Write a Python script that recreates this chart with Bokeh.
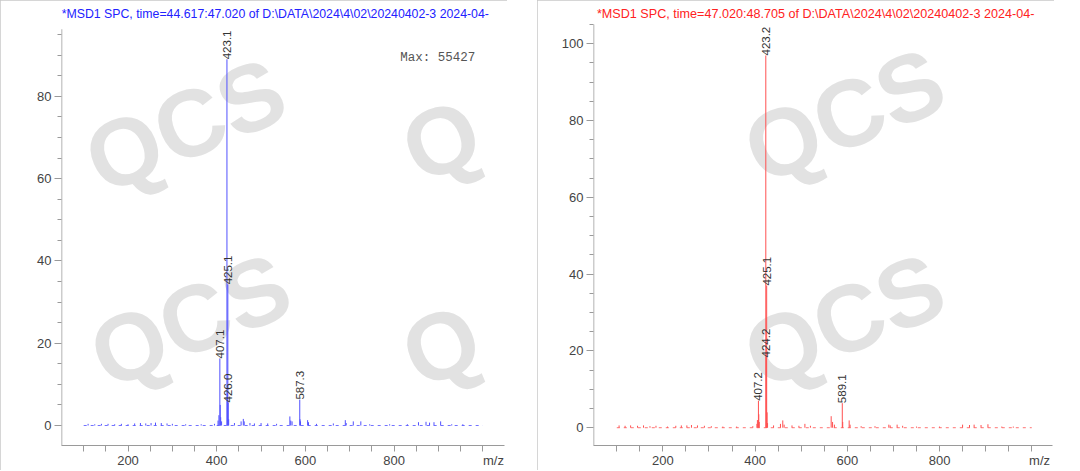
import math
from bokeh.plotting import figure
from bokeh.layouts import row
from bokeh.models import FixedTicker, Label, Range1d
from bokeh.embed import file_html
from bokeh.resources import INLINE
from bokeh.core.properties import value

# ---------------- data ----------------
left_title = "*MSD1 SPC, time=44.617:47.020 of D:\\DATA\\2024\\4\\02\\20240402-3 2024-04-"
left_max_text = "Max:  55427"
left_mz = [110, 125, 140, 155, 170, 185, 200, 215, 228, 240, 252, 262, 275, 288, 300,
           330, 365, 395, 403, 405, 407.1, 408, 409, 411, 423.1, 424, 425.1, 426.0, 427,
           440, 455, 460, 462, 475, 485, 500, 515, 535, 565, 567, 570, 587.3, 588, 589,
           605, 607, 625, 663, 690, 692, 708, 725, 745, 790, 830, 855, 872, 880, 890,
           905, 930, 955]
left_int = [0.4, 0.3, 0.4, 0.4, 0.3, 0.4, 0.3, 0.5, 0.6, 0.5, 0.6, 0.7, 0.6, 0.5, 0.4,
            0.3, 0.3, 0.4, 1.2, 2.5, 16.3, 5.0, 2.0, 1.0, 89.0, 8.0, 34.3, 5.6, 1.5,
            0.6, 1.0, 1.6, 1.0, 0.6, 0.5, 0.6, 0.5, 0.4, 2.2, 1.2, 1.0, 6.3, 1.5, 1.0,
            1.3, 0.8, 0.4, 0.5, 1.3, 0.6, 1.0, 1.0, 0.3, 0.3, 0.3, 0.8, 0.9, 0.7, 0.8,
            1.0, 0.3, 0.3]
left_label_mz = [407.1, 423.1, 425.1, 426.0, 587.3]
left_label_int = [16.3, 89.0, 34.3, 5.6, 6.3]
left_label_text = ["407.1", "423.1", "425.1", "426.0", "587.3"]
left_y_ticks = [0, 20, 40, 60, 80]
left_y_axis_top = 96.3

right_title = "*MSD1 SPC, time=47.020:48.705 of D:\\DATA\\2024\\4\\02\\20240402-3 2024-04-"
right_mz = [105, 118, 130, 145, 158, 172, 185, 210, 228, 240, 252, 262, 275, 290, 305,
            330, 360, 395, 404, 405, 407.2, 408, 409, 423.2, 424.2, 425.1, 426, 427,
            440, 455, 460, 463, 480, 495, 508, 520, 565, 568, 572, 589.1, 590, 604, 606,
            630, 660, 690, 693, 708, 720, 750, 800, 850, 865, 875, 890, 905, 935, 960]
right_int = [0.6, 0.5, 0.6, 0.5, 0.6, 0.4, 0.5, 0.3, 0.5, 0.6, 0.6, 0.7, 0.6, 0.5, 0.4,
             0.3, 0.3, 0.4, 1.0, 2.0, 7.0, 3.5, 1.5, 96.9, 18.3, 37.0, 4.0, 1.2,
             0.6, 1.0, 1.9, 0.8, 0.6, 0.5, 1.0, 0.5, 3.0, 1.5, 0.8, 6.4, 1.5, 1.9, 0.8,
             0.4, 0.4, 0.8, 0.6, 0.8, 0.5, 0.3, 0.3, 0.8, 0.7, 0.8, 0.7, 0.9, 0.3, 0.3]
right_label_mz = [407.2, 423.2, 424.2, 425.1, 589.1]
right_label_int = [7.0, 96.9, 18.3, 37.0, 6.4]
right_label_text = ["407.2", "423.2", "424.2", "425.1", "589.1"]
right_y_ticks = [0, 20, 40, 60, 80, 100]
right_y_axis_top = 105

x_tick_values = [200, 400, 600, 800]
x_minor_ticks = list(range(100, 1001, 50))
scan_range = [100, 1000]
axis_label = "m/z"
watermark = "QCS"
watermark_edge = "Q"   # only the first letter of the watermark that straddles the panels

FONT = "Liberation Sans"
AXIS_COLOR = "#9a9a9a"


def add_mark(p, x, y, text):
    p.add_layout(Label(x=x, y=y, text=text, angle=0.40, text_font=FONT,
                       text_font_style="bold", text_font_size="95px",
                       text_color="#e2e2e2", text_align="center",
                       text_baseline="middle", level="underlay"))


def make_panel(title, title_color, line_color, mz, inten, lab_mz, lab_int, lab_txt,
               y_ticks, y_minor, y_top, xr, yr, width, min_left, min_right,
               title_pos, title_size, mz_pos, marks, max_text=None, max_pos=None):
    p = figure(width=width, height=470, x_range=Range1d(*xr), y_range=Range1d(*yr),
               output_backend="svg", toolbar_location=None,
               min_border_left=min_left, min_border_right=min_right,
               min_border_top=2, min_border_bottom=25)
    p.xgrid.visible = False
    p.ygrid.visible = False
    p.outline_line_color = None
    p.background_fill_color = "white"
    p.border_fill_color = "white"
    p.styles = {"outline": "1px solid #c8c8c8", "outline-offset": "-1px"}

    for wx, wy in marks:
        add_mark(p, wx, wy, watermark)

    p.add_layout(Label(x=title_pos[0], y=title_pos[1], text=title, text_font=FONT,
                       text_font_size=title_size, text_color=title_color,
                       text_align="left", text_baseline="middle"))

    ax = p.xaxis[0]
    ax.ticker = FixedTicker(ticks=x_tick_values + [mz_pos], minor_ticks=x_minor_ticks)
    ax.major_label_overrides = {mz_pos: axis_label}
    ay = p.yaxis[0]
    ay.ticker = FixedTicker(ticks=y_ticks, minor_ticks=y_minor)
    for a, mj, mn in ((ax, 0, 6), (ay, 7, 4)):
        a.axis_line_color = AXIS_COLOR
        a.major_tick_line_color = AXIS_COLOR
        a.minor_tick_line_color = AXIS_COLOR
        a.major_tick_in = 0
        a.minor_tick_in = 0
        a.major_tick_out = mj
        a.minor_tick_out = mn
        a.major_label_text_font = FONT
        a.major_label_text_font_size = "13px"
        a.major_label_text_color = "#444444"
        a.major_label_standoff = 3
    ax.major_label_standoff = 1
    # the y axis line stops at the top of the scale, below the title
    ay.axis_line_color = None
    p.segment(x0=xr[0], y0=yr[0], x1=xr[0], y1=y_top, line_color=AXIS_COLOR,
              line_width=1.5)

    # baseline noise (dashed) and peaks
    p.segment(x0=scan_range[0], y0=0, x1=scan_range[1], y1=0, line_color=line_color,
              line_width=1, line_dash="3 4", line_alpha=0.8)
    p.segment(x0=mz, y0=0, x1=mz, y1=inten, line_color=line_color, line_width=1)

    p.text(x=lab_mz, y=lab_int, text=lab_txt, angle=math.pi / 2, text_align="left",
           text_baseline="middle", text_font=value(FONT), text_font_size="11.5px",
           text_color="#333333")

    if max_text:
        p.add_layout(Label(x=max_pos[0], y=max_pos[1], text=max_text,
                           text_font="Liberation Mono", text_font_size="12.5px",
                           text_color="#555555", text_align="left",
                           text_baseline="middle"))
    return p


p1 = make_panel(left_title, "#2222ff", "#5050ff", left_mz, left_int, left_label_mz,
                left_label_int, left_label_text, left_y_ticks,
                [v for v in range(5, 100, 5) if v % 20], left_y_axis_top,
                (50, 1049), (-4.86, 102.8), 507, 61, 3,
                (50.5, 100.0), "12.3px", 1024,
                [(329, 72.9), (340, 25.5)],
                left_max_text, (814, 89.2))
add_mark(p1, 906, 69.3, watermark_edge)
add_mark(p1, 906, 19.4, watermark_edge)

p2 = make_panel(right_title, "#ff2222", "#ff5050", right_mz, right_int, right_label_mz,
                right_label_int, right_label_text, right_y_ticks,
                [v for v in range(5, 106, 5) if v % 20], right_y_axis_top,
                (49.5, 1045), (-4.63, 110.7), 517, 56, 2,
                (57, 107.8), "12.6px", 1017,
                [(593, 81.3), (593, 27.9)])

layout = row(p1, p2, spacing=30)
open("out.html", "w").write(file_html(layout, INLINE))
